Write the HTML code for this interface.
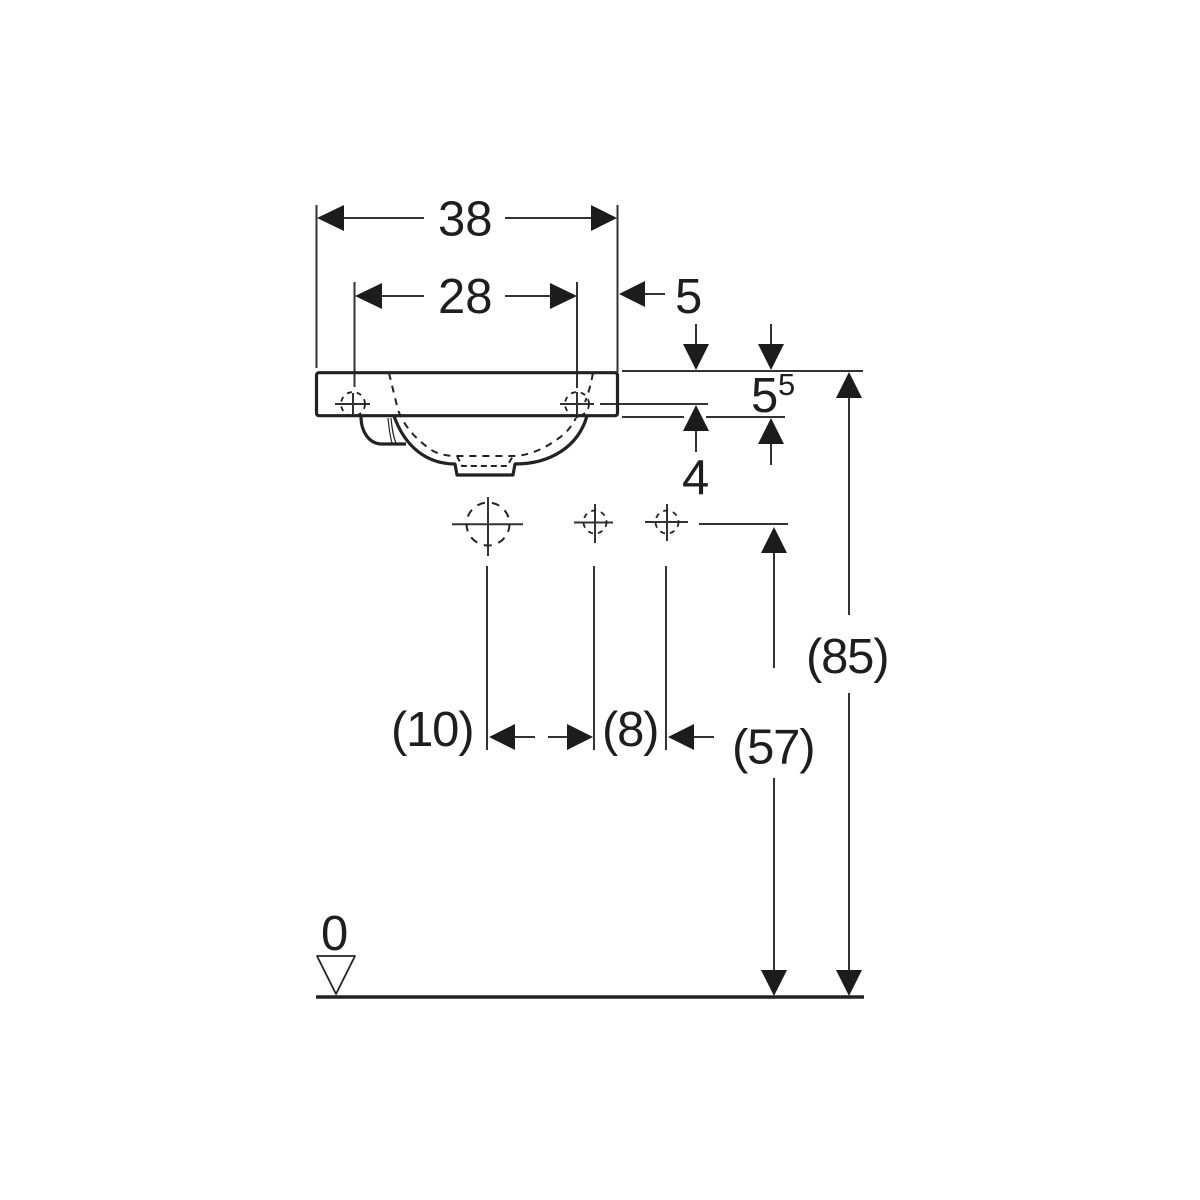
<!DOCTYPE html>
<html><head><meta charset="utf-8"><style>html,body{margin:0;padding:0;background:#fff}svg{display:block}text{font-family:"Liberation Sans",sans-serif;font-size:49px;fill:#1e1e1e}.p{letter-spacing:-1.2px}</style></head>
<body><svg width="1200" height="1200" viewBox="0 0 1200 1200" xmlns="http://www.w3.org/2000/svg">
<rect width="1200" height="1200" fill="#fff"/>
<g fill="none" stroke="#333" stroke-width="2">
<path d="M316.500 205V368M617.500 205V372M354.500 282V387M577 282V388"/>
<path d="M344 218H424M505 218H592M382 296H424M505 296H550M644 294H665M622 371H863M600 404H708M622 417H684M706 417H785M696 324V346M771 324V346M696 430V452M771 430V465M849 395V615M849 693V970M699 524H788M774 550V668M774 778V970M487 566V750M594 566V750M666 566V750M515 737H535M548 737H570M692 737H714"/>
<path d="M452 524.300H523M488 497V556" stroke-width="2"/>
<path d="M574 522.500H613M595 504V543M645 522H688M667 504V541M335 404H370M353 393V416M560 404H594M577 392V418"/>
</g>
<g fill="#1c1c1c">
<path d="M317 218L344 205V231ZM617 218L591 205V231ZM355 296L382 283V309ZM577 296L550 283V309ZM619 294L645 281V307ZM696 370L683 344H709ZM771 370L758 344H784ZM696 405L683 431H709ZM771 418L758 444H784ZM849 372L836 398H862ZM849 996L836 970H862ZM774 527L761 553H787ZM774 996L761 970H787ZM489 737L515 724V750ZM593 737L567 724V750ZM668 737L694 724V750Z"/>
</g>
<g fill="none" stroke="#222" stroke-linejoin="round">
<rect x="316.500" y="372.700" width="301" height="43" rx="2.500" stroke-width="3.200"/>
<path d="M394 416C405 447 427 464 455 464L457 475H513L515 464C550 464 578 447 587 416M361 416C361 433 370 444 382 444H406" stroke-width="3.200"/>
<path d="M388 418C389 428 390 436 392 443" stroke-width="1.200"/>
<path d="M391 418C392 428 393 436 396 443" stroke-width="1.200"/>
<g stroke-dasharray="7 6" stroke-width="2">
<path d="M389 373L398 410C403 423 413 438 433 451C441 455 449 456 457 456H513C530 456 548 447 563 435C570 429 573 423 576 418"/>
<path d="M593 373C591 383 589 392 585 402"/>
<path d="M457 456L462 466H507L513 456" stroke-dasharray="6 4"/>
<circle cx="488" cy="524" r="21.500" stroke-dasharray="8 7"/>
</g>
<g stroke-dasharray="5 5" stroke-width="1.800">
<circle cx="595" cy="522" r="11.500"/><circle cx="667" cy="522" r="11.500"/>
<circle cx="353" cy="404" r="12"/><circle cx="577" cy="404" r="12"/>
</g>
<path d="M316 997H864" stroke-width="3.500"/>
<path d="M317 956H355L336 994Z" stroke-width="1.800"/>
</g>
<text x="438" y="235.500">38</text>
<text x="438" y="313">28</text>
<text x="675" y="313">5</text>
<text x="751" y="412">5</text>
<text x="778" y="395" style="font-size:31px">5</text>
<text x="682" y="494">4</text>
<text class="p" x="806" y="673">(85)</text>
<text class="p" x="391" y="746">(10)</text>
<text class="p" x="602" y="746">(8)</text>
<text class="p" x="732" y="763.500">(57)</text>
<text x="321" y="950">0</text>
</svg></body></html>
